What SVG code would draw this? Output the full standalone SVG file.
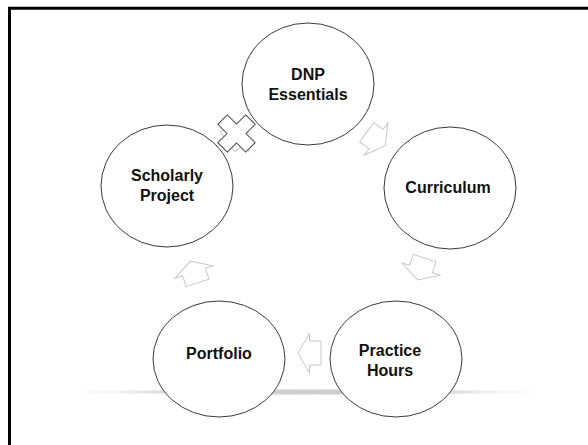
<svg xmlns="http://www.w3.org/2000/svg" width="588" height="445" viewBox="0 0 588 445">
<defs>
<radialGradient id="band" cx="0.5" cy="0.5" r="0.5">
<stop offset="0" stop-color="#c4c4c4"/>
<stop offset="0.6" stop-color="#dedede"/>
<stop offset="1" stop-color="#ffffff" stop-opacity="0"/>
</radialGradient>
<polygon id="arr" points="-11.5,-12 0,-12 0,-20 11.5,0 0,20 0,12 -11.5,12"/>
</defs>
<style>
.node{fill:#fff;stroke:#3a3a3a;stroke-width:1}
.lbl{font-family:"Liberation Sans",Arial,sans-serif;font-size:16px;font-weight:bold;fill:#111;text-anchor:middle}
.arrow{fill:#fff;stroke:#c8c8c8;stroke-width:1}
.cross{fill:#fff;stroke:#4a4a4a;stroke-width:1}
.frame{stroke:#000;stroke-width:3;fill:none}
</style>
<rect width="588" height="445" fill="#fff"/>
<g id="frame">
<line class="frame" x1="9.5" y1="7" x2="9.5" y2="445"/>
<line class="frame" x1="8" y1="8.2" x2="588" y2="8.2"/>
</g>
<ellipse cx="307" cy="392" rx="256" ry="4" fill="url(#band)"/>
<g id="connectors">
<use href="#arr" class="arrow" transform="translate(376,139) rotate(36)"/>
<use href="#arr" class="arrow" transform="translate(421,269) rotate(108)"/>
<use href="#arr" class="arrow" transform="translate(309.5,353) rotate(180)"/>
<use href="#arr" class="arrow" transform="translate(194,272) rotate(252)"/>
<use href="#arr" class="arrow" transform="translate(237,135) rotate(324)"/>
<polygon class="cross" transform="translate(236.5,133.5) rotate(45)" points="-6.7,-19.7 6.7,-19.7 6.7,-6.7 19.7,-6.7 19.7,6.7 6.7,6.7 6.7,19.7 -6.7,19.7 -6.7,6.7 -19.7,6.7 -19.7,-6.7 -6.7,-6.7"/>
</g>
<g id="node-dnp">
<ellipse class="node" cx="308" cy="84" rx="66" ry="61"/>
<text class="lbl" x="308" y="80">DNP</text>
<text class="lbl" x="308" y="100">Essentials</text>
</g>
<g id="node-curriculum">
<ellipse class="node" cx="450" cy="188" rx="66" ry="61"/>
<text class="lbl" x="448" y="193">Curriculum</text>
</g>
<g id="node-practice">
<ellipse class="node" cx="396" cy="359" rx="66" ry="58"/>
<text class="lbl" x="390" y="356">Practice</text>
<text class="lbl" x="390" y="376">Hours</text>
</g>
<g id="node-portfolio">
<ellipse class="node" cx="219" cy="359" rx="66" ry="58"/>
<text class="lbl" x="219" y="359">Portfolio</text>
</g>
<g id="node-scholarly">
<ellipse class="node" cx="167" cy="186" rx="66" ry="61"/>
<text class="lbl" x="167" y="181">Scholarly</text>
<text class="lbl" x="167" y="201">Project</text>
</g>
</svg>
